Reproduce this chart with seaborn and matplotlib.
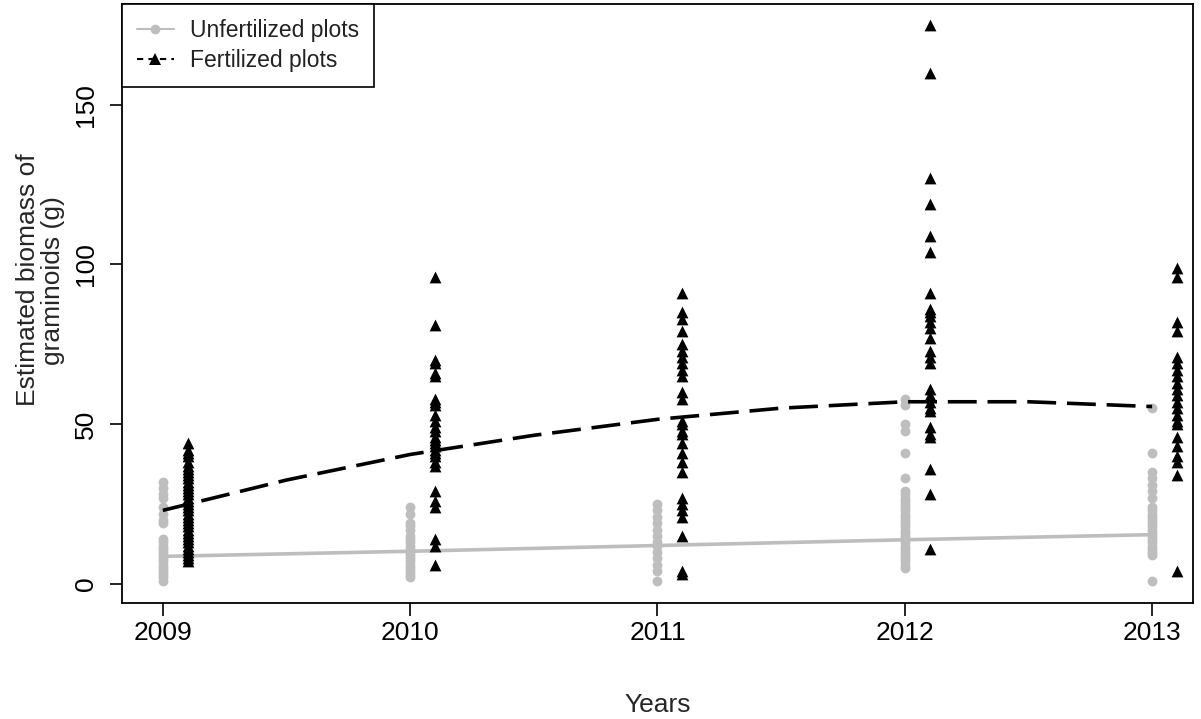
import numpy as np
import pandas as pd
import matplotlib
matplotlib.use("Agg")
import matplotlib.pyplot as plt
from matplotlib.lines import Line2D
import seaborn as sns

# ---- data ----
years = [2009, 2010, 2011, 2012, 2013]

unfert_2009 = [32, 30, 28, 27, 24, 22, 20, 19, 14, 13, 12, 11, 10, 9, 8, 7, 6, 5, 4, 3, 2, 1]
unfert_2010 = [24, 22, 19, 18, 17, 15, 14, 13, 12, 11, 10, 9, 8, 7, 6, 5, 4, 3, 2]
unfert_2011 = [25, 23, 21, 19, 17, 15, 13, 12, 10, 8, 6, 4, 1]
unfert_2012 = [58, 56, 50, 48, 41, 33, 29, 28, 27, 26, 25, 24, 23, 22, 21, 20, 19, 18,
               17, 16, 15, 14, 13, 12, 11, 10, 9, 8, 7, 6, 5]
unfert_2013 = [55, 41, 35, 33, 31, 29, 27, 24, 23, 22, 21, 20, 19, 18, 17, 16, 15, 14,
               13, 12, 11, 10, 9, 1]

fert_2009 = [44, 42, 41, 40, 38, 37, 36, 35, 34, 33, 32, 31, 30, 29, 28, 27, 26, 25, 24,
             23, 22, 21, 20, 19, 18, 17, 16, 15, 14, 13, 12, 11, 10, 9, 8, 7]
fert_2010 = [96, 81, 70, 69, 66, 65, 58, 57, 56, 53, 51, 49, 48, 46, 45, 44, 43, 42, 41,
             40, 38, 37, 29, 26, 24, 14, 12, 6]
fert_2011 = [91, 85, 83, 79, 75, 73, 71, 69, 67, 65, 60, 58, 51, 50, 48, 47, 44, 41, 38,
             35, 27, 25, 23, 21, 15, 4, 3]
fert_2012 = [175, 160, 127, 119, 109, 104, 91, 86, 85, 84, 82, 80, 77, 73, 71, 69, 61,
             59, 57, 55, 54, 49, 47, 46, 36, 28, 11]
fert_2013 = [99, 96, 82, 79, 71, 69, 67, 65, 63, 61, 59, 57, 55, 53, 51, 50, 46, 43, 40,
             38, 34, 4]

# fitted curves, read at half-year steps
fit_x = [2009, 2009.5, 2010, 2010.5, 2011, 2011.5, 2012, 2012.5, 2013]
fit_unfert = [8.6, 9.4, 10.2, 11.1, 12.0, 12.9, 13.8, 14.6, 15.4]
fit_fert = [23.0, 32.5, 40.5, 46.5, 51.5, 55.0, 57.0, 57.0, 55.5]

unfert_pts = [unfert_2009, unfert_2010, unfert_2011, unfert_2012, unfert_2013]
fert_pts = [fert_2009, fert_2010, fert_2011, fert_2012, fert_2013]

GRAY = "#bebebe"
DODGE = 0.1  # fertilized points are shifted right of the year

rows = []
for yr, vals in zip(years, unfert_pts):
    rows += [{"year": yr, "biomass": v, "group": "Unfertilized plots"} for v in vals]
for yr, vals in zip(years, fert_pts):
    rows += [{"year": yr + DODGE, "biomass": v, "group": "Fertilized plots"} for v in vals]
pts = pd.DataFrame(rows)

fits = pd.DataFrame({"year": fit_x, "unfert": fit_unfert, "fert": fit_fert})

# ---- plot ----
sns.set_style("ticks")
plt.rcParams["font.family"] = ["Liberation Sans", "DejaVu Sans"]

fig = plt.figure(figsize=(12.01, 7.19), dpi=100)
ax = fig.add_axes([0.1016, 0.1613, 0.8917, 0.8331])

sns.scatterplot(data=pts[pts.group == "Unfertilized plots"], x="year", y="biomass",
                ax=ax, color=GRAY, marker="o", s=50, edgecolor=GRAY, linewidth=0,
                legend=False, zorder=2)
sns.lineplot(data=fits, x="year", y="unfert", ax=ax, color=GRAY, linewidth=2.6,
             zorder=3)
sns.scatterplot(data=pts[pts.group == "Fertilized plots"], x="year", y="biomass",
                ax=ax, color="black", marker="^", s=72, edgecolor="black", linewidth=0,
                legend=False, zorder=4)
sns.lineplot(data=fits, x="year", y="fert", ax=ax, color="black", linewidth=2.6,
             dashes=False, zorder=5).lines[-1].set_dashes((8, 3))

ax.set_xlim(2008.835, 2013.165)
ax.set_ylim(-6.0, 181.5)
ax.set_xticks(years)
ax.set_yticks([0, 50, 100, 150])
ax.set_yticklabels(["0", "50", "100", "150"], rotation=90, va="center")
ax.tick_params(axis="both", direction="out", length=9, width=1.2, colors="black",
               labelsize=19)
ax.tick_params(axis="x", pad=4)
ax.tick_params(axis="y", pad=8)

for sp in ax.spines.values():
    sp.set_visible(True)
    sp.set_color("black")
    sp.set_linewidth(1.3)

ax.set_xlabel("Years", fontsize=19)
ax.xaxis.set_label_coords(0.5, -0.15)
ax.set_ylabel("Estimated biomass of\ngraminoids (g)", fontsize=19, linespacing=1.05)
ax.yaxis.set_label_coords(-0.053, 0.539)

handles = [
    Line2D([], [], color=GRAY, marker="o", markersize=7, linewidth=1.5,
           markeredgewidth=0),
    Line2D([], [], color="black", marker="^", markersize=8, linewidth=1.5,
           linestyle=(0, (3, 2.5)), markeredgewidth=0),
]
leg = ax.legend(handles, ["Unfertilized plots", "Fertilized plots"], loc="upper left",
                fontsize=16.5, frameon=True, fancybox=False, framealpha=1,
                edgecolor="black", borderaxespad=0.0, handlelength=1.6,
                handletextpad=0.7, labelspacing=0.3, borderpad=0.65)
leg.get_frame().set_linewidth(1.2)
for t in leg.get_texts():
    t.set_color("#222222")

fig.savefig("out.png", dpi=100)
